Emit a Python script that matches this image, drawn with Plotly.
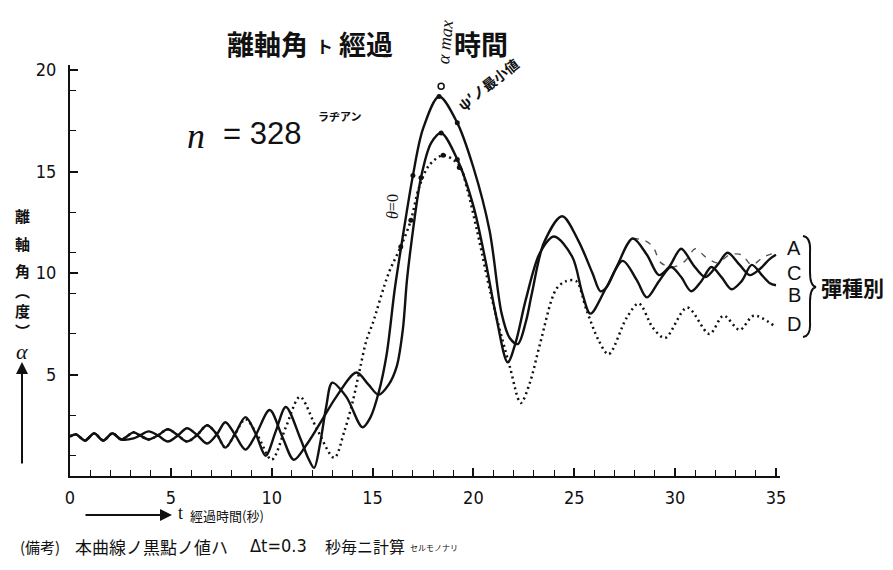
import plotly.graph_objects as go

# ---------------- data ----------------
# shared early part (all shells identical)
t_early = [0.0, 0.3, 0.75, 1.2, 1.65, 2.1, 2.55]
y_early = [1.95, 2.05, 1.75, 2.1, 1.75, 2.1, 1.8]

# A / C common trajectory (largest yaw)
t_AC = [3.15, 3.47, 3.9, 4.36, 4.85, 5.35, 5.8, 6.3, 6.8, 7.28, 7.7, 8.17, 8.7, 9.2, 9.7,
        10.2, 10.7, 11.4, 11.8, 12.1, 12.4, 12.7, 13.0, 13.7, 14.5, 14.9, 15.3, 15.7, 16.1,
        16.5, 17.0, 17.5, 18.3, 19.2, 20.0, 20.8, 21.4, 21.8, 22.2, 22.6, 22.9, 23.5, 24.4,
        25.2, 25.9, 26.3, 26.6, 27.1, 27.9]
y_AC = [2.15, 2.0, 1.8, 2.0, 2.3, 2.0, 1.7, 2.02, 2.5, 2.05, 1.4, 2.05, 2.9, 2.1, 1.0,
        2.2, 3.4, 1.9, 0.9, 0.4, 1.6, 3.4, 4.6, 3.9, 2.4, 2.9, 4.1, 6.0, 9.2,
        11.8, 14.8, 17.1, 18.7, 17.4, 15.2, 12.1, 8.0, 6.8, 6.5, 7.6, 9.0, 11.5, 12.8,
        11.6, 10.0, 9.1, 9.3, 10.3, 11.7]
# tails after the split at t = 27.9
t_A_tail = [28.5, 28.9, 29.3, 29.9, 30.5, 31.0, 31.5, 32.1, 32.7, 33.3, 33.8, 34.4, 35.0]
y_A_tail = [11.6, 11.3, 10.5, 10.3, 10.6, 11.2, 10.8, 10.5, 10.9, 10.9, 10.4, 10.8, 11.0]
t_C_tail = [28.6, 29.2, 29.7, 30.3, 30.9, 31.5, 32.1, 32.6, 33.2, 33.7, 34.2, 34.7, 35.0]
y_C_tail = [10.9, 9.9, 10.3, 11.2, 10.4, 9.8, 10.4, 11.0, 10.4, 9.9, 10.2, 10.7, 10.9]

# B
t_B = [3.15, 3.47, 3.9, 4.36, 4.85, 5.35, 5.8, 6.3, 6.8, 7.28, 7.7, 8.17, 8.7, 9.2, 9.9,
       10.5, 11.1, 11.7, 12.4, 13.2, 14.2, 14.8, 15.3, 15.8, 16.2, 16.5, 16.7, 16.9, 17.4,
       17.9, 18.4, 19.2, 20.0, 20.6, 21.1, 21.7, 22.1, 22.6, 23.3, 24.0, 24.9, 25.4, 25.8,
       26.6, 27.4, 28.1, 28.6, 29.2, 29.8, 30.3, 30.8, 31.3, 31.8, 32.3, 32.8, 33.3, 33.8,
       34.3, 34.7, 35.0]
y_B = [1.85, 2.0, 2.2, 2.0, 1.7, 2.0, 2.35, 2.02, 1.6, 2.05, 2.65, 2.05, 1.3, 2.0, 3.25,
       2.0, 0.8, 1.5, 2.6, 3.9, 5.1, 4.5, 4.0, 4.5, 5.4, 7.2, 9.6, 11.3, 14.7,
       16.4, 16.9, 15.6, 13.3, 10.6, 8.0, 5.6, 6.6, 8.7, 11.0, 11.8, 10.8, 9.0, 8.0,
       9.3, 10.6, 9.65, 8.8, 9.6, 10.3, 9.8, 9.1, 9.6, 10.3, 9.8, 9.2, 9.6, 10.4,
       9.9, 9.5, 9.4]

# D (dotted)
t_D = [3.15, 3.47, 3.9, 4.36, 4.85, 5.35, 5.8, 6.3, 6.8, 7.28, 7.7, 8.17, 8.7, 9.3, 10.0,
       10.7, 11.4, 12.2, 13.1, 13.6, 14.0, 14.4, 14.7, 15.0, 15.8, 16.4, 16.9, 17.3, 17.8,
       18.5, 19.3, 19.7, 20.2, 20.9, 21.8, 22.35, 22.8, 23.3, 24.1, 24.6, 25.1, 25.6, 26.2,
       26.7, 27.6, 28.2, 28.9, 29.5, 30.6, 31.7, 32.4, 33.2, 33.9, 34.9]
y_D = [2.15, 2.0, 1.8, 2.0, 2.3, 2.0, 1.7, 2.02, 2.5, 2.05, 1.4, 2.05, 2.8, 2.0, 0.8,
       2.4, 3.9, 2.4, 0.9, 2.2, 3.6, 5.4, 6.7, 7.5, 10.0, 11.3, 12.6, 14.2, 15.3,
       15.8, 15.3, 14.1, 12.0, 8.8, 5.4, 3.6, 4.6, 6.5, 9.2, 9.6, 9.6, 8.2, 6.7,
       6.0, 7.8, 8.5, 7.3, 6.8, 8.3, 7.0, 7.9, 7.2, 7.9, 7.4]

# computed points marked near the maximum (black dots)
dots_t = [16.4, 17.0, 16.9, 17.4, 18.3, 18.4, 18.5, 19.2, 19.2, 19.3]
dots_y = [11.3, 14.8, 12.6, 14.7, 18.7, 16.9, 15.8, 17.4, 15.6, 15.2]

# alpha-max point
amax_t = [18.4]
amax_y = [19.2]

x_ticks = [0, 5, 10, 15, 20, 25, 30, 35]
y_ticks = [5, 10, 15, 20]

# ---------------- layout geometry ----------------
# the page body has an 8px margin, so the figure is drawn 8px smaller and offset
OFF = 8
W, H = 893 - OFF, 570 - OFF
L, T = 70 - OFF, 65 - OFF
R, B = W - (780 - OFF), H - (476 - OFF)
PW, PH = W - L - R, H - T - B


def px2p(px, py):
    # screen pixel -> paper coordinates
    return (px - OFF - L) / PW, (H - B - (py - OFF)) / PH


CJK = "Noto Sans CJK JP"
NUM = "Liberation Sans Narrow, DejaVu Sans Condensed, Arial, sans-serif"
SERIF = "Liberation Serif, DejaVu Serif, serif"

fig = go.Figure()

solid = dict(color="#111111", width=2.4, shape="spline", smoothing=0.9)
dotted = dict(color="#111111", width=2.5, shape="spline", smoothing=0.9, dash="2px,3.5px")

fig.add_trace(go.Scatter(x=t_early + t_D, y=y_early + y_D, mode="lines", line=dotted,
                         name="D", showlegend=False))
fig.add_trace(go.Scatter(x=[t_AC[-1]] + t_A_tail, y=[y_AC[-1]] + y_A_tail, mode="lines",
                         line=dict(color="#555555", width=1.4, shape="spline", smoothing=0.9,
                                   dash="6px,7px"), name="A", showlegend=False))
fig.add_trace(go.Scatter(x=t_early + t_AC + t_C_tail, y=y_early + y_AC + y_C_tail, mode="lines",
                         line=solid, name="C", showlegend=False))
fig.add_trace(go.Scatter(x=t_early + t_B, y=y_early + y_B, mode="lines", line=solid,
                         name="B", showlegend=False))
fig.add_trace(go.Scatter(x=dots_t, y=dots_y, mode="markers",
                         marker=dict(symbol="circle", size=5, color="#111111"),
                         showlegend=False))
fig.add_trace(go.Scatter(x=amax_t, y=amax_y, mode="markers",
                         marker=dict(symbol="circle-open", size=6, color="#111111",
                                     line=dict(width=1.5)), showlegend=False))

ann = []


def text(px, py, s, size, family=CJK, xanchor="center", angle=0, weight="normal"):
    x, y = px2p(px, py)
    ann.append(dict(x=x, y=y, xref="paper", yref="paper", text=s, showarrow=False,
                    xanchor=xanchor, yanchor="middle", textangle=angle,
                    font=dict(size=size, family=family, color="#111111", weight=weight)))


# title
text(267, 43, "離軸角", 27, weight="bold")
text(324, 45, "ト", 17, weight="bold")
text(366, 43, "經過", 27, weight="bold")
text(481, 43, "時間", 27, weight="bold")
text(445, 42, "<i>α max</i>", 18, family=SERIF, angle=-85)
text(488, 84, "ψ′ノ最小値", 14, angle=-38, weight="bold")
text(392, 207, "<i>θ</i>=0", 16, family=SERIF, angle=-90)

# n = 328
text(196, 136, "<i>n</i>", 36, family=SERIF)
text(262, 133, "= 328", 31, family="Liberation Sans, Arial, sans-serif")
text(340, 116, "ラヂアン", 11, weight="bold")

# y-axis label (vertical)
for ch, py in [("離", 215), ("軸", 243), ("角", 270), ("︵", 290), ("度", 310), ("︶", 330)]:
    text(22, py, ch, 15, weight="bold")
text(22, 352, "<i>α</i>", 22, family=SERIF)
hx, hy = px2p(22, 362)
ann.append(dict(x=hx, y=hy, xref="paper", yref="paper", ax=0, ay=103, text="",
                showarrow=True, arrowhead=2, arrowsize=1.2, arrowwidth=2, arrowcolor="#111111"))

# x-axis label
hx, hy = px2p(172, 515)
ann.append(dict(x=hx, y=hy, xref="paper", yref="paper", ax=-88, ay=0, text="",
                showarrow=True, arrowhead=2, arrowsize=1.2, arrowwidth=2, arrowcolor="#111111"))
text(176, 513, "t", 18, family=SERIF, xanchor="left")
text(188, 515, "經過時間(秒)", 13, xanchor="left")

# note
text(18, 546, "(備考)", 15, xanchor="left")
text(73, 546, "本曲線ノ黒點ノ値ハ", 17, xanchor="left")
text(248, 545, "Δt=0.3", 18, family=NUM, xanchor="left")
text(323, 546, "秒毎ニ計算", 16, xanchor="left")
text(408, 547, "セルモノナリ", 8, xanchor="left")

# series labels at right
for s, py in [("A", 248), ("C", 273), ("B", 295), ("D", 324)]:
    text(794, py, s, 20, family="Liberation Sans, Arial, sans-serif")
text(852, 287, "彈種別", 21, weight="bold")


# brace
def bp(px, py):
    x, y = px2p(px, py)
    return f"{x:.5f},{y:.5f}"


brace = ("M " + bp(803, 236) + " Q " + bp(811, 237) + " " + bp(810, 252) +
         " L " + bp(810, 272) + " Q " + bp(810, 286) + " " + bp(816, 287) +
         " Q " + bp(810, 288) + " " + bp(810, 302) + " L " + bp(810, 322) +
         " Q " + bp(811, 336) + " " + bp(803, 337))

fig.update_layout(
    width=W, height=H,
    margin=dict(l=L, r=R, t=T, b=B),
    paper_bgcolor="white", plot_bgcolor="white",
    showlegend=False,
    annotations=ann,
    shapes=[dict(type="path", path=brace, xref="paper", yref="paper",
                 line=dict(color="#111111", width=2))],
    xaxis=dict(range=[0, 35.2], tickvals=x_ticks, ticks="inside", ticklen=8, tickwidth=1.5,
               tickcolor="#111111", showline=True, linecolor="#111111", linewidth=2,
               showgrid=False, zeroline=False, ticklabelstandoff=4,
               tickfont=dict(size=18, family=NUM, color="#111111"),
               minor=dict(dtick=1, tick0=0, ticks="inside", ticklen=6, tickwidth=1.3,
                          tickcolor="#111111", showgrid=False)),
    yaxis=dict(range=[0, 20.25], tickvals=y_ticks, ticks="inside", ticklen=8, tickwidth=1.5,
               tickcolor="#111111", showline=True, linecolor="#111111", linewidth=2,
               showgrid=False, zeroline=False, ticklabelstandoff=8,
               tickfont=dict(size=18, family=NUM, color="#111111"),
               minor=dict(dtick=2, tick0=1, ticks="inside", ticklen=6, tickwidth=1.3,
                          tickcolor="#111111", showgrid=False)),
)

fig.write_html("out.html")
